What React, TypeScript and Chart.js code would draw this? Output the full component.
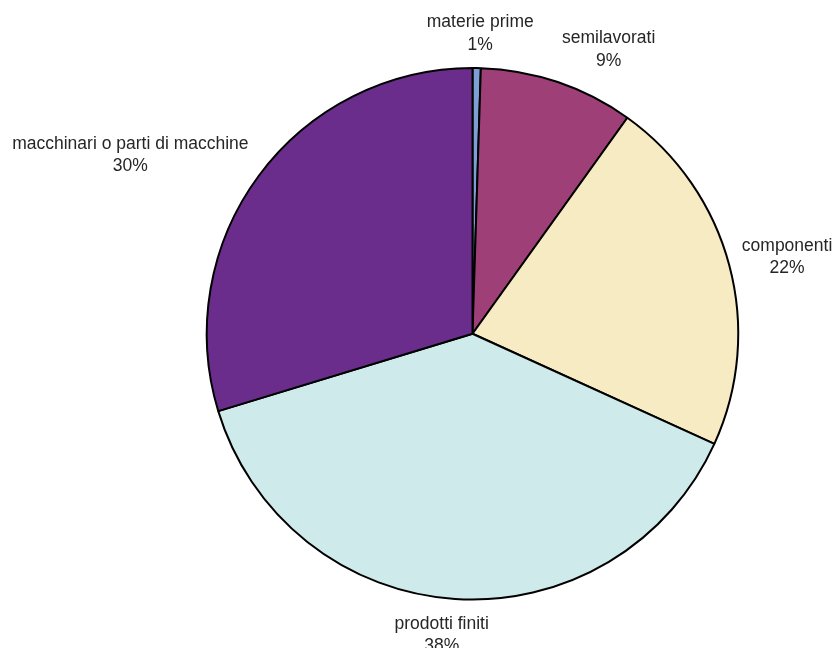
import React, { useEffect, useRef } from "react";
import { Chart, registerables } from "chart.js";

Chart.register(...registerables);

const categories = [
  "materie prime",
  "semilavorati",
  "componenti",
  "prodotti finiti",
  "macchinari o parti di macchine",
];
const values = [0.5, 9.4, 21.9, 38.5, 29.7];
const percentLabels = ["1%", "9%", "22%", "38%", "30%"];
const colors = ["#7e9fd6", "#9e3f78", "#f7ebc4", "#cfeaea", "#6b2d8c"];

const FONT_SIZE = 17.5;
const LINE_H = 22.5;
const GAP = 13;

const outsideLabels = {
  id: "outsideLabels",
  afterDatasetsDraw(chart: any) {
    const ctx = chart.ctx;
    const meta = chart.getDatasetMeta(0);
    ctx.save();
    ctx.font = `${FONT_SIZE}px "Liberation Sans", Arial, sans-serif`;
    ctx.fillStyle = "#262626";
    ctx.textAlign = "center";
    ctx.textBaseline = "middle";
    meta.data.forEach((arc: any, i: number) => {
      const { x, y, startAngle, endAngle, outerRadius } = arc.getProps(
        ["x", "y", "startAngle", "endAngle", "outerRadius"],
        true
      );
      const a = (startAngle + endAngle) / 2;
      const ax = x + Math.cos(a) * (outerRadius + GAP);
      const ay = y + Math.sin(a) * (outerRadius + GAP);
      const lines = [categories[i], percentLabels[i]];
      const w = Math.max(...lines.map((l) => ctx.measureText(l).width));
      const h = lines.length * LINE_H;
      const s = Math.max(-1, Math.min(1, Math.cos(a) * 4));
      const fx = 0.5 - 0.5 * s;
      const fy = 0.5 - 0.5 * Math.sin(a);
      const left = ax - fx * w;
      const top = ay - fy * h;
      lines.forEach((l, j) => {
        ctx.fillText(l, left + w / 2, top + LINE_H * (j + 0.5) + 1);
      });
    });
    ctx.restore();
  },
};

export default function App() {
  const ref = useRef<HTMLCanvasElement>(null);
  useEffect(() => {
    if (!ref.current) return;
    const chart = new Chart(ref.current, {
      type: "pie",
      data: {
        labels: categories,
        datasets: [
          {
            data: values,
            backgroundColor: colors,
            borderColor: "#000000",
            borderWidth: 2,
          },
        ],
      },
      options: {
        responsive: false,
        animation: false,
        layout: {
          padding: { top: 67, bottom: 47.5, left: 205.75, right: 93.75 },
        },
        plugins: {
          legend: { display: false },
          tooltip: { enabled: false },
        },
      },
      plugins: [outsideLabels],
    });
    return () => chart.destroy();
  }, []);
  return (
    <div style={{ position: "fixed", left: 0, top: 0, width: 833, height: 648, background: "#fff" }}>
      <canvas ref={ref} width={833} height={648} style={{ width: 833, height: 648 }} />
    </div>
  );
}
